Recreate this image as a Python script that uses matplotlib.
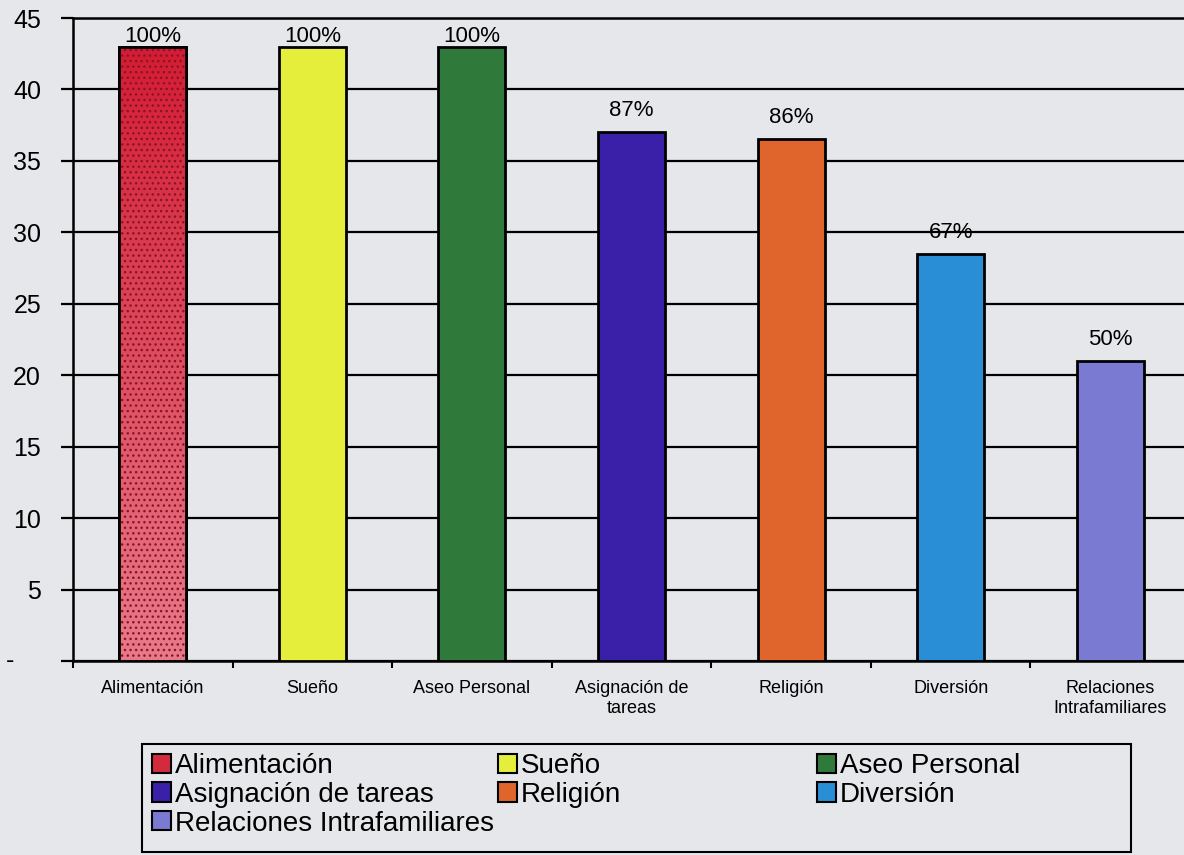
import numpy as np
import matplotlib
matplotlib.use('Agg')
import matplotlib.pyplot as plt
from matplotlib.patches import Patch, Rectangle

plt.rcParams['font.family'] = ['Liberation Sans', 'DejaVu Sans']

# datos
categorias = ['Alimentación', 'Sueño', 'Aseo Personal', 'Asignación de tareas',
              'Religión', 'Diversión', 'Relaciones Intrafamiliares']
etiquetas_x = ['Alimentación', 'Sueño', 'Aseo Personal', 'Asignación de\ntareas',
               'Religión', 'Diversión', 'Relaciones\nIntrafamiliares']
valores = [43, 43, 43, 37, 36.5, 28.5, 21]
porcentajes = ['100%', '100%', '100%', '87%', '86%', '67%', '50%']
colores = ['#d42a3e', '#e6ee3c', '#2f7a3a', '#3a20a8', '#e0652c', '#2a8ed6', '#7a7ad2']
y_ticks = [0, 5, 10, 15, 20, 25, 30, 35, 40, 45]
y_labels = ['', '5', '10', '15', '20', '25', '30', '35', '40', '45']

fondo = '#e5e7eb'
W, H = 1184, 855
fig = plt.figure(figsize=(W / 100, H / 100), dpi=100, facecolor=fondo)
ax = fig.add_axes([73 / W, 1 - 661 / H, 1117 / W, 643 / H], facecolor=fondo)

x = np.arange(len(categorias))
ancho = 0.42
barras = ax.bar(x, valores, width=ancho, color=colores, edgecolor='black',
                linewidth=2, zorder=3)

# degradado para la primera barra (rojo arriba, rosado abajo)
b0 = barras[0]
grad = np.linspace(0, 1, 256).reshape(-1, 1)
cmap = matplotlib.colors.LinearSegmentedColormap.from_list('rojo', ['#d41c34', '#e87a8a'])
im = ax.imshow(grad, cmap=cmap, aspect='auto', zorder=3.5,
               extent=(b0.get_x(), b0.get_x() + b0.get_width(), 0, b0.get_height()))
im.set_clip_path(b0)
ax.bar(x[0], valores[0], width=ancho, fill=False, hatch='...', edgecolor='#8a1424',
       linewidth=0, zorder=3.7)
ax.bar(x[0], valores[0], width=ancho, fill=False, edgecolor='black', linewidth=2, zorder=3.9)

for xi, v, p in zip(x, valores, porcentajes):
    off = 0 if p == '100%' else 8
    ax.annotate(p, (xi, v), xytext=(0, off), textcoords='offset points',
                ha='center', va='bottom', fontsize=16, zorder=5)

ax.set_xlim(-0.5, len(categorias) - 0.5)
ax.set_ylim(0, 45)
ax.set_yticks(y_ticks)
ax.set_yticklabels(y_labels, fontsize=18)
ax.annotate('-', xy=(0, 0), xycoords=('axes fraction', 'data'), xytext=(-67, 0),
            textcoords='offset pixels', ha='left', va='center', fontsize=18)
ax.yaxis.grid(True, color='black', linewidth=1.6, zorder=1)
ax.tick_params(axis='y', length=9, width=1.6, pad=14)

ax.set_xticks(x)
ax.set_xticklabels(etiquetas_x, fontsize=13)
ax.set_xticks(np.arange(len(categorias) + 1) - 0.5, minor=True)
ax.tick_params(axis='x', which='major', length=0, pad=14)
ax.tick_params(axis='x', which='minor', length=5, width=1.5, direction='out')

for s in ['left', 'bottom', 'top']:
    ax.spines[s].set_color('black')
    ax.spines[s].set_linewidth(1.8)
ax.spines['right'].set_visible(False)

# leyenda: tres columnas colocadas a mano
handles = [Patch(facecolor=c, edgecolor='black', linewidth=1.5) for c in colores]
columnas = [[0, 3, 6], [1, 4], [2, 5]]
x_col = [152, 498, 817]
for idx, xc in zip(columnas, x_col):
    fig.legend([handles[i] for i in idx], [categorias[i] for i in idx],
               loc='upper left', bbox_to_anchor=(xc / W, 1 - 753 / H),
               fontsize=20, frameon=False, handlelength=0.68, handleheight=0.68,
               handletextpad=0.15, labelspacing=0.1, borderpad=0, borderaxespad=0)
fig.add_artist(Rectangle((142 / W, 1 - 852 / H), (1131 - 142) / W, (852 - 744) / H,
                         transform=fig.transFigure, fill=False, edgecolor='black',
                         linewidth=1.5))

fig.savefig('out.png', dpi=100, facecolor=fondo)
